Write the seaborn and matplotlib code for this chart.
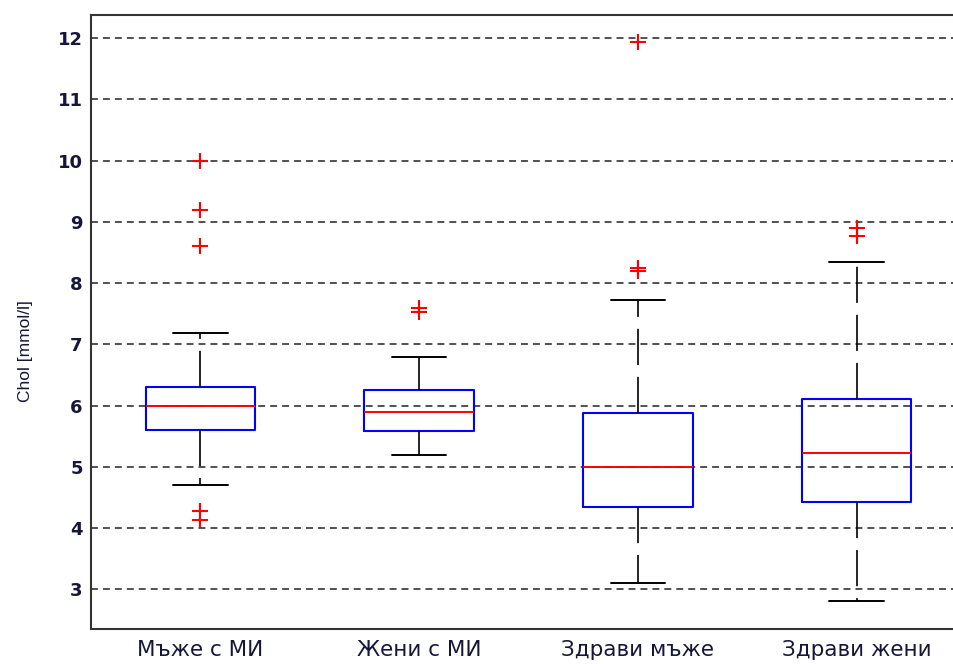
import matplotlib
matplotlib.use("Agg")
import matplotlib.pyplot as plt
import seaborn as sns

# ---- data ----
groups = ["Мъже с МИ", "Жени с МИ", "Здрави мъже", "Здрави жени"]
medians = [6.00, 5.89, 5.00, 5.23]
q1 = [5.60, 5.59, 4.35, 4.42]
q3 = [6.30, 6.25, 5.88, 6.11]
whisker_low = [4.71, 5.20, 3.10, 2.81]
whisker_high = [7.19, 6.80, 7.72, 8.34]
outliers_men_mi = [4.13, 4.28, 8.60, 9.19, 10.00]
outliers_women_mi = [7.53, 7.60]
outliers_healthy_men = [8.20, 8.24, 11.94]
outliers_healthy_women = [8.77, 8.90]
yticks = [3, 4, 5, 6, 7, 8, 9, 10, 11, 12]

outliers = [outliers_men_mi, outliers_women_mi, outliers_healthy_men, outliers_healthy_women]

sns.set_style("white")
plt.rcParams['font.family'] = ['DejaVu Sans']
plt.rcParams['lines.scale_dashes'] = False

text_color = '#16163a'

fig = plt.figure(figsize=(9.54, 6.64), dpi=100)
ax = fig.add_axes([91 / 954, 35 / 664, 875 / 954, 614 / 664])

stats = []
for g, m, a, b, lo, hi, f in zip(groups, medians, q1, q3, whisker_low, whisker_high, outliers):
    stats.append(dict(label=g, med=m, q1=a, q3=b, whislo=lo, whishi=hi, fliers=f))

ax.bxp(stats, positions=[1, 2, 3, 4], widths=0.5, capwidths=0.25,
       showfliers=True, patch_artist=False,
       boxprops=dict(color='#0000ff', linewidth=1.5),
       medianprops=dict(color='#ff0000', linewidth=1.4),
       whiskerprops=dict(color='black', linewidth=1.2, linestyle=(0, (26, 8.6))),
       capprops=dict(color='black', linewidth=1.4),
       flierprops=dict(marker='+', markeredgecolor='#ff0000', markersize=12,
                       markeredgewidth=1.5, linestyle='none'))

ax.set_xlim(0.5, 4.5)
ax.set_ylim(2.35, 12.38)
ax.set_yticks(yticks)
ax.set_yticklabels([str(t) for t in yticks], fontsize=13, fontweight='bold', color=text_color)
ax.set_xticks([1, 2, 3, 4])
ax.set_xticklabels(groups, fontsize=15.5, color=text_color)

ax.set_axisbelow(True)
ax.yaxis.grid(True, linestyle=(0, (5, 3.6)), color='#222222', linewidth=1.1)
ax.xaxis.grid(False)

ax.tick_params(axis='x', length=0, pad=8)
ax.tick_params(axis='y', direction='in', length=4, width=1, color='black', pad=6)

for side in ['top', 'left', 'bottom']:
    ax.spines[side].set_color('#333333')
    ax.spines[side].set_linewidth(1.5)
ax.spines['right'].set_visible(False)

ax.set_ylabel("Chol [mmol/l]", fontsize=12.5, color=text_color,
              family=['Liberation Sans', 'DejaVu Sans'])
ax.yaxis.set_label_coords(-0.066, 0.453)

fig.savefig("out.png", dpi=100)
